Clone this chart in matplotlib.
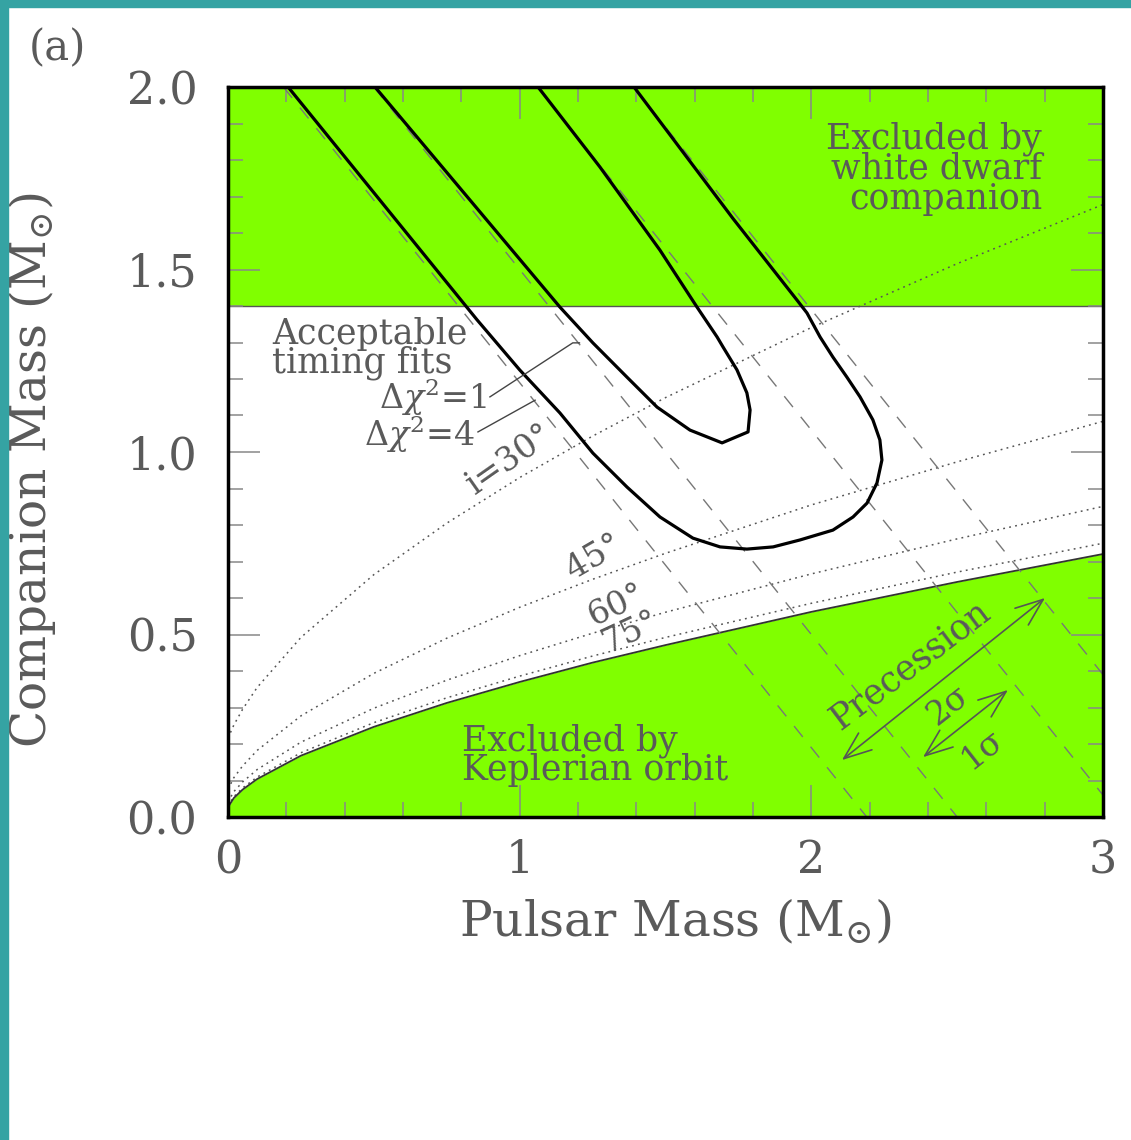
"""
Pulsar mass / companion mass diagram, panel (a)
"""
import matplotlib
matplotlib.use('Agg')
import matplotlib.pyplot as plt
from matplotlib.ticker import MultipleLocator
from matplotlib.patches import Rectangle

# --- data ---------------------------------------------------------------
# pulsar mass grid for the inclination curves
mp_grid = [0.0, 0.02, 0.05, 0.1, 0.25, 0.5, 0.75, 1.0, 1.25, 1.5, 2.0, 2.5, 3.0]
# companion mass for each inclination (i = 90 is the Keplerian limit)
mc_i90 = [0.027, 0.052, 0.075, 0.104, 0.168, 0.247, 0.3125, 0.370, 0.423, 0.471, 0.562, 0.644, 0.7205]
mc_i75 = [0.030, 0.0557, 0.0795, 0.1095, 0.176, 0.2585, 0.3265, 0.386, 0.441, 0.492, 0.5855, 0.671, 0.750]
mc_i60 = [0.0416, 0.0695, 0.096, 0.130, 0.205, 0.298, 0.3748, 0.442, 0.5035, 0.561, 0.666, 0.762, 0.851]
mc_i45 = [0.076, 0.1077, 0.1398, 0.1825, 0.277, 0.3935, 0.4898, 0.5745, 0.6512, 0.7225, 0.855, 0.973, 1.084]
mc_i30 = [0.216, 0.252, 0.295, 0.355, 0.492, 0.664, 0.805, 0.930, 1.0435, 1.149, 1.341, 1.516, 1.678]

# white dwarf upper limit
wd_limit = 1.4

# total masses (Mp + Mc) allowed by periastron precession, 2 sigma / 1 sigma
total_mass = [2.19, 2.50, 3.06, 3.39]

# timing-fit contours
outer_mp = [0.206, 0.854, 1.0, 1.138, 1.251, 1.368, 1.481, 1.594, 1.687, 1.779, 1.869,
            1.961, 2.074, 2.143, 2.191, 2.225, 2.242, 2.235, 2.211, 2.167, 2.122, 2.074,
            2.030, 1.985, 1.951, 1.731, 1.392]
outer_mc = [2.0, 1.362, 1.225, 1.107, 0.997, 0.904, 0.822, 0.764, 0.740, 0.734, 0.740,
            0.759, 0.786, 0.822, 0.860, 0.915, 0.978, 1.033, 1.088, 1.151, 1.205, 1.260,
            1.315, 1.381, 1.416, 1.640, 2.0]
inner_mp = [0.504, 1.138, 1.251, 1.368, 1.471, 1.584, 1.694, 1.783, 1.790, 1.779, 1.745,
            1.697, 1.677, 1.608, 1.481, 1.275, 1.063]
inner_mc = [2.0, 1.397, 1.299, 1.205, 1.123, 1.060, 1.025, 1.055, 1.115, 1.162, 1.225,
            1.288, 1.315, 1.397, 1.553, 1.781, 2.0]

GREEN = '#80FF00'
TEXT = '#5a5a5a'
TEAL = '#35A3A3'

plt.rcParams['font.family'] = ['DejaVu Serif', 'DejaVu Sans']
plt.rcParams['mathtext.fontset'] = 'dejavuserif'

fig = plt.figure(figsize=(11.31, 11.40), dpi=100)
ax = fig.add_axes([228 / 1131, 1 - 817 / 1140, 875 / 1131, 730 / 1140])

# teal frame of the page (left and top)
fig.patches.append(Rectangle((0, 0), 8 / 1131, 1, transform=fig.transFigure,
                             color=TEAL, zorder=0))
fig.patches.append(Rectangle((0, 1 - 7 / 1140), 1, 7 / 1140, transform=fig.transFigure,
                             color=TEAL, zorder=0))

# excluded regions
ax.fill_between([0, 3], wd_limit, 2.0, color=GREEN, lw=0, zorder=0.5)
ax.fill_between(mp_grid, 0, mc_i90, color=GREEN, lw=0, zorder=0.5)
ax.axhline(wd_limit, color='#555555', lw=1.0, zorder=1)

# inclination curves
for mc in [mc_i30, mc_i45, mc_i60, mc_i75]:
    ax.plot(mp_grid, mc, color='#555555', lw=1.1, ls=(0, (1.2, 2.8)), zorder=2)
ax.plot(mp_grid, mc_i90, color='#333333', lw=1.3, zorder=2)

# precession lines Mp + Mc = const
for m in total_mass:
    ax.plot([m - 2.0, m], [2.0, 0.0], color='#777777', lw=1.0, ls=(0, (10, 9)), zorder=2)

# timing contours
ax.plot(outer_mp, outer_mc, color='k', lw=2.3, solid_joinstyle='round', zorder=3)
ax.plot(inner_mp, inner_mc, color='k', lw=2.3, solid_joinstyle='round', zorder=3)

ax.set_xlim(0, 3)
ax.set_ylim(0, 2)

# ticks
ax.set_xticks([0, 1, 2, 3])
ax.set_xticklabels(['0', '1', '2', '3'])
ax.set_yticks([0, 0.5, 1.0, 1.5, 2.0])
ax.set_yticklabels(['0.0', '0.5', '1.0', '1.5', '2.0'])
ax.xaxis.set_minor_locator(MultipleLocator(0.2))
ax.yaxis.set_minor_locator(MultipleLocator(0.1))
ax.tick_params(which='both', direction='in', top=True, right=True,
               color='#888888', labelcolor=TEXT)
ax.tick_params(which='major', length=23, width=1.1, labelsize=32)
ax.tick_params(which='minor', length=11, width=1.1)
ax.tick_params(axis='y', which='major', pad=22)
ax.tick_params(axis='x', which='major', pad=16)

for s in ax.spines.values():
    s.set_linewidth(2.5)
    s.set_color('k')
    s.set_zorder(6)

ax.set_xlabel(r'Pulsar Mass (M${}_{\odot}$)', fontsize=35, color=TEXT)
ax.set_ylabel(r'Companion Mass (M${}_{\odot}$)', fontsize=35, color=TEXT)
ax.xaxis.set_label_coords(0.511, -0.110)
ax.yaxis.set_label_coords(-0.194, 0.475)

fig.text(57 / 1131, 1 - 48 / 1140, '(a)', fontsize=30, color=TEXT, ha='center', va='center')

# annotations
ax.text(2.791, 1.905, 'Excluded by\nwhite dwarf\ncompanion', fontsize=25, color=TEXT,
        ha='right', va='top', multialignment='right', linespacing=0.84, zorder=4)
ax.text(0.802, 0.257, 'Excluded by\nKeplerian orbit', fontsize=25, color=TEXT,
        ha='left', va='top', linespacing=0.84, zorder=4)
ax.text(0.151, 1.370, 'Acceptable\ntiming fits', fontsize=25, color=TEXT,
        ha='left', va='top', linespacing=0.81, zorder=4)
ax.text(0.888, 1.150, r'$\Delta\chi^2$=1', fontsize=24, color=TEXT, ha='right', va='center', zorder=4)
ax.text(0.847, 1.047, r'$\Delta\chi^2$=4', fontsize=24, color=TEXT, ha='right', va='center', zorder=4)
ax.plot([0.898, 1.182, 1.205], [1.151, 1.299, 1.299], color='#444444', lw=1.0, zorder=4)
ax.plot([0.857, 1.053], [1.055, 1.142], color='#444444', lw=1.0, zorder=4)

ax.text(0.967, 0.978, 'i=30°', fontsize=24, color=TEXT, rotation=35,
        ha='center', va='center', zorder=4)
ax.text(1.255, 0.712, '45°', fontsize=24, color=TEXT, rotation=30,
        ha='center', va='center', zorder=4)
ax.text(1.334, 0.581, '60°', fontsize=24, color=TEXT, rotation=25,
        ha='center', va='center', zorder=4)
ax.text(1.378, 0.507, '75°', fontsize=24, color=TEXT, rotation=25,
        ha='center', va='center', zorder=4)

# precession arrows
ax.annotate('', xy=(2.801, 0.600), xytext=(2.105, 0.156),
            arrowprops=dict(arrowstyle='<->,head_length=0.9,head_width=0.35',
                            color='#555555', lw=1.2, mutation_scale=22,
                            shrinkA=0, shrinkB=0), zorder=4)
ax.annotate('', xy=(2.674, 0.348), xytext=(2.383, 0.164),
            arrowprops=dict(arrowstyle='<->,head_length=0.9,head_width=0.35',
                            color='#555555', lw=1.2, mutation_scale=22,
                            shrinkA=0, shrinkB=0), zorder=4)
ax.text(2.338, 0.416, 'Precession', fontsize=25, color=TEXT, rotation=37,
        ha='center', va='center', zorder=4)
ax.text(2.470, 0.307, '2σ', fontsize=24, color=TEXT, rotation=38,
        ha='center', va='center', zorder=4)
ax.text(2.589, 0.184, '1σ', fontsize=24, color=TEXT, rotation=38,
        ha='center', va='center', zorder=4)

fig.savefig('out.png', dpi=100)
